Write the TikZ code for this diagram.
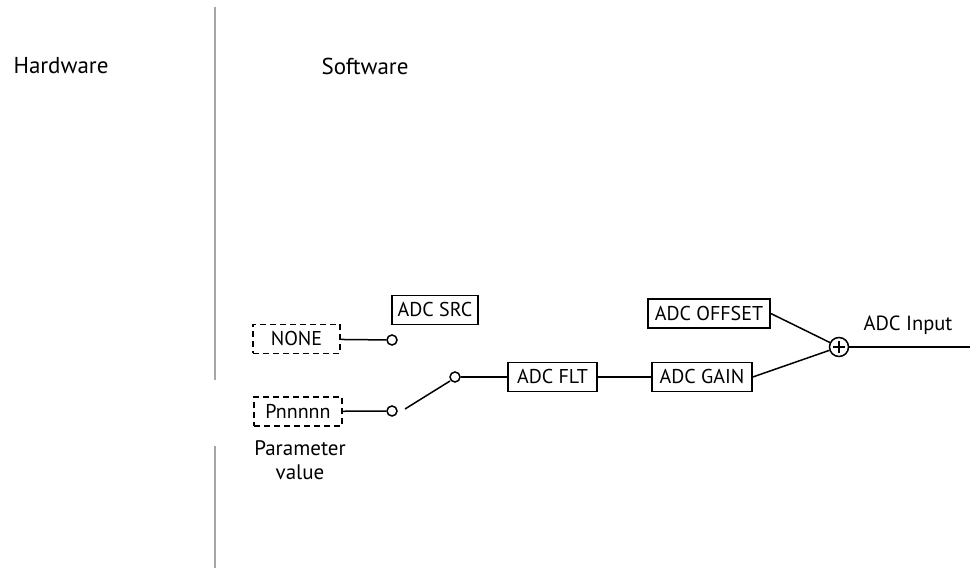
\documentclass[tikz,border=0pt]{standalone}
\usepackage{fontspec}
\setmainfont{PT Sans}
\begin{document}
\begin{tikzpicture}[x=1pt,y=-1pt,
  lbl/.style={inner sep=0pt,font=\fontsize{23}{26}\selectfont},
  blk/.style={draw,line width=1.6pt,inner sep=0pt,minimum height=29pt,font=\fontsize{20}{24}\selectfont},
  dblk/.style={blk,dashed,dash pattern=on 6pt off 4pt},
  term/.style={draw,circle,line width=1.5pt,inner sep=0pt,minimum size=10pt,fill=white},
  wire/.style={line width=1.5pt},
  divider/.style={line width=1.6pt,draw=gray!70}]
\useasboundingbox (0,0) rectangle (970,569);
\draw[divider] (215,7) -- (215,380);
\draw[divider] (215,446) -- (215,568);
\node[lbl] (hw) at (61,66) {Hardware};
\node[lbl] (sw) at (365,66) {Software};
\node[dblk,minimum width=87pt] (none) at (296.5,339) {NONE};
\node[blk,minimum width=86pt] (src) at (435,310) {ADC SRC};
\node[dblk,minimum width=88pt] (pn) at (298,411.5) {Pnnnnn};
\node[lbl,align=center,font=\fontsize{21}{24}\selectfont] (pv) at (300,460) {Parameter\\value};
\node[term] (c1) at (392,340) {};
\node[term] (c2) at (392,411) {};
\node[term] (c3) at (455,377) {};
\coordinate (b1) at (405,409);
\coordinate (b2) at (450,381);
\node[blk,minimum width=89pt] (flt) at (552.5,377) {ADC FLT};
\node[blk,minimum width=100pt] (gain) at (702,377) {ADC GAIN};
\node[blk,minimum width=122pt] (off) at (709,313.5) {ADC OFFSET};
\node[draw,circle,line width=1.5pt,minimum size=19pt,inner sep=0pt] (sum) at (839,347) {};
\draw[line width=1.4pt] ([xshift=-6pt]sum.center) -- ([xshift=6pt]sum.center)
  ([yshift=-6pt]sum.center) -- ([yshift=6pt]sum.center);
\coordinate (out) at (970,347);
\node[lbl,font=\fontsize{20.5}{24}\selectfont] (in) at (908,325) {ADC Input};
\draw[wire] (none) -- (c1);
\draw[wire] (pn) -- (c2);
\draw[wire] (b1) -- (b2);
\draw[wire] (c3) -- (flt);
\draw[wire] (flt) -- (gain);
\draw[wire] (gain.east) -- (sum);
\draw[wire] (off.east) -- (sum);
\draw[wire] (sum) -- (out);
\end{tikzpicture}
\end{document}
